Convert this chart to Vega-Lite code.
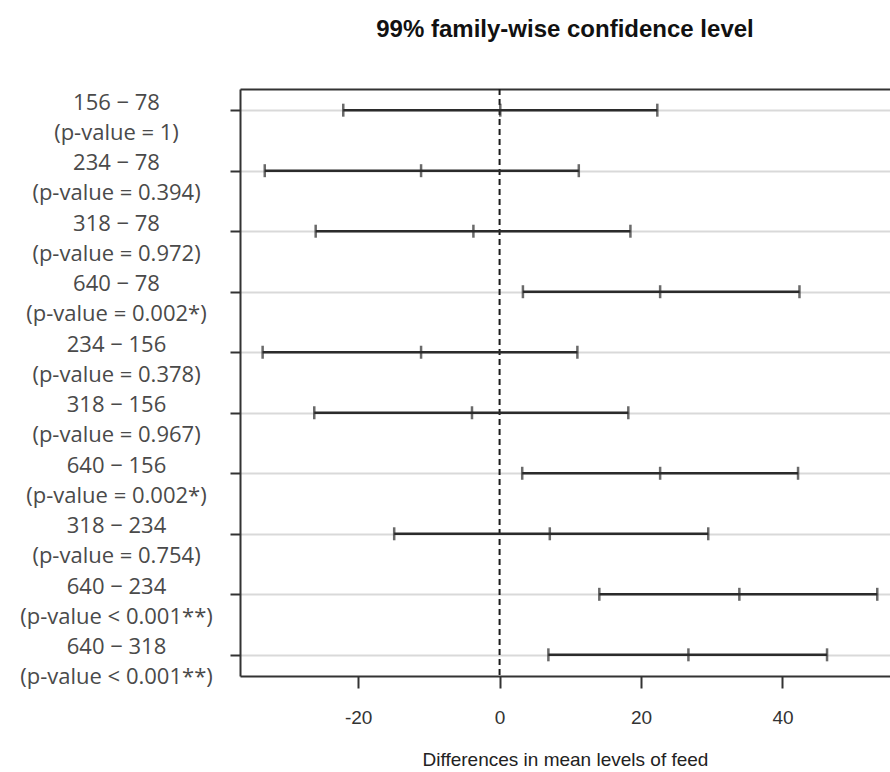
{
  "$schema": "https://vega.github.io/schema/vega-lite/v6.json",
  "width": 650,
  "height": 587,
  "autosize": {"type": "none"},
  "padding": {"left": 240, "top": 89, "right": 0, "bottom": 96},
  "background": "white",
  "config": {
    "view": {"stroke": null},
    "axis": {"domainColor": "#333333", "domainWidth": 2, "tickColor": "#333333", "tickWidth": 2}
  },
  "title": {
    "text": "99% family-wise confidence level",
    "anchor": "middle",
    "font": "Liberation Sans",
    "fontSize": 24,
    "fontWeight": "bold",
    "color": "#111111",
    "offset": 46
  },
  "datasets": {
    "tukey": [
      {"comparison": "156 − 78|(p-value = 1)", "lwr": -22.1, "diff": 0.1, "upr": 22.3},
      {"comparison": "234 − 78|(p-value = 0.394)", "lwr": -33.2, "diff": -11.1, "upr": 11.2},
      {"comparison": "318 − 78|(p-value = 0.972)", "lwr": -26.0, "diff": -3.7, "upr": 18.5},
      {"comparison": "640 − 78|(p-value = 0.002*)", "lwr": 3.3, "diff": 22.7, "upr": 42.4},
      {"comparison": "234 − 156|(p-value = 0.378)", "lwr": -33.5, "diff": -11.1, "upr": 11.0},
      {"comparison": "318 − 156|(p-value = 0.967)", "lwr": -26.2, "diff": -3.9, "upr": 18.2},
      {"comparison": "640 − 156|(p-value = 0.002*)", "lwr": 3.2, "diff": 22.7, "upr": 42.2},
      {"comparison": "318 − 234|(p-value = 0.754)", "lwr": -14.9, "diff": 7.1, "upr": 29.5},
      {"comparison": "640 − 234|(p-value < 0.001**)", "lwr": 14.1, "diff": 33.9, "upr": 53.4},
      {"comparison": "640 − 318|(p-value < 0.001**)", "lwr": 6.9, "diff": 26.7, "upr": 46.3}
    ],
    "zero": [{"ref": 0}]
  },
  "resolve": {"axis": {"x": "independent"}},
  "layer": [
    {
      "data": {"name": "zero"},
      "mark": {"type": "rule", "color": "#1a1a1a", "strokeWidth": 2, "strokeDash": [6, 4]},
      "encoding": {
        "x": {
          "field": "ref",
          "type": "quantitative",
          "scale": {"domain": [-36.7, 55.2], "nice": false, "zero": false},
          "axis": {"orient": "top", "labels": false, "ticks": false, "grid": false, "title": null, "domain": true}
        }
      }
    },
    {
      "data": {"name": "tukey"},
      "mark": {"type": "rule", "color": "#2b2b2b", "strokeWidth": 2.5},
      "encoding": {
        "y": {
          "field": "comparison",
          "type": "nominal",
          "sort": null,
          "scale": {"type": "point", "padding": 0.35},
          "axis": {
            "title": null,
            "grid": true,
            "gridColor": "#d9d9d9",
            "gridWidth": 2,
            "tickSize": 10,
            "labelExpr": "split(datum.label, '|')",
            "labelFont": "Open Sans",
            "labelFontSize": 22,
            "labelColor": "#4a4a4a",
            "labelLineHeight": 30,
            "labelAlign": "center",
            "labelBaseline": "middle",
            "labelPadding": 114,
            "labelOffset": -8,
            "labelLimit": 0
          }
        },
        "x": {
          "field": "lwr",
          "type": "quantitative",
          "scale": {"domain": [-36.7, 55.2], "nice": false, "zero": false},
          "axis": {
            "orient": "bottom",
            "values": [-20, 0, 20, 40],
            "labelExpr": "datum.value < 0 ? '-' + abs(datum.value) : '' + datum.value",
            "grid": false,
            "tickSize": 12,
            "labelFont": "Liberation Sans",
            "labelFontSize": 19,
            "labelColor": "#333333",
            "labelPadding": 20,
            "title": "Differences in mean levels of feed",
            "titleFont": "Liberation Sans",
            "titleFontSize": 19,
            "titleFontWeight": "normal",
            "titleColor": "#222222",
            "titlePadding": 23
          }
        },
        "x2": {"field": "upr"}
      }
    },
    {
      "data": {"name": "tukey"},
      "transform": [{"fold": ["lwr", "diff", "upr"], "as": ["stat", "val"]}],
      "mark": {"type": "tick", "color": "#2b2b2b", "size": 13, "thickness": 2.5},
      "encoding": {
        "y": {
          "field": "comparison",
          "type": "nominal",
          "sort": null,
          "scale": {"type": "point", "padding": 0.35},
          "axis": {
            "title": null,
            "grid": true,
            "gridColor": "#d9d9d9",
            "gridWidth": 2,
            "tickSize": 10,
            "labelExpr": "split(datum.label, '|')",
            "labelFont": "Open Sans",
            "labelFontSize": 22,
            "labelColor": "#4a4a4a",
            "labelLineHeight": 30,
            "labelAlign": "center",
            "labelBaseline": "middle",
            "labelPadding": 114,
            "labelOffset": -8,
            "labelLimit": 0
          }
        },
        "x": {
          "field": "val",
          "type": "quantitative",
          "scale": {"domain": [-36.7, 55.2], "nice": false, "zero": false},
          "axis": null
        }
      }
    }
  ]
}
